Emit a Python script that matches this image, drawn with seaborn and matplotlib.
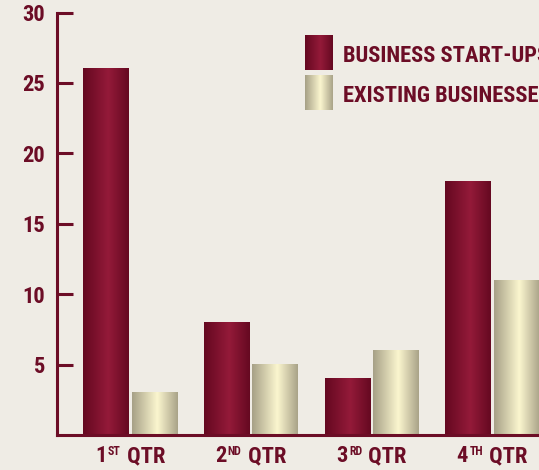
import numpy as np
import pandas as pd
import matplotlib
matplotlib.use("Agg")
import matplotlib.pyplot as plt
import seaborn as sns
from matplotlib.colors import LinearSegmentedColormap
from matplotlib import font_manager
from matplotlib.offsetbox import TextArea, HPacker, AnnotationBbox

# ---- data ----
quarters = ["1ST", "2ND", "3RD", "4TH"]
tick_nums = ["1", "2", "3", "4"]
tick_sups = ["ST", "ND", "RD", "TH"]
tick_word = "QTR"
series_names = ["BUSINESS START-UPS", "EXISTING BUSINESSES"]
startups = [26, 8, 4, 18]
existing = [3, 5, 6, 11]
y_ticks = [5, 10, 15, 20, 25, 30]

df = pd.DataFrame({
    "quarter": quarters * 2,
    "series": [series_names[0]] * 4 + [series_names[1]] * 4,
    "value": startups + existing,
})

# ---- style ----
bg = "#efece5"
ink = "#6c0d26"
maroon_cmap = LinearSegmentedColormap.from_list(
    "maroon", [(0, "#640820"), (0.55, "#941a39"), (1, "#650921")])
cream_cmap = LinearSegmentedColormap.from_list(
    "cream", [(0, "#a6a086"), (0.55, "#fbf6cf"), (1, "#a9a388")])
cmaps = [maroon_cmap, cream_cmap]

sns.set_theme(style="white")

def pick(fams):
    for f in fams:
        try:
            font_manager.findfont(f, fallback_to_default=False)
            return f
        except Exception:
            pass
    return "DejaVu Sans"

fam = pick(["Roboto Condensed", "PT Sans Narrow", "Archivo Narrow", "DejaVu Sans"])
plt.rcParams["font.family"] = [fam, "DejaVu Sans"]

FS = 16.2
SUP = 8.6
W, H = 539, 470
fig = plt.figure(figsize=(W / 100, H / 100), dpi=100, facecolor=bg)
ax = fig.add_axes([57 / W, 35 / H, 1 - 57 / W, (457.5 - 35) / H])
ax.set_facecolor(bg)

sns.barplot(data=df, x="quarter", y="value", hue="series",
            palette=["#8a1530", "#e6e0b8"], width=0.8, gap=0.065,
            saturation=1, linewidth=0, legend=False, ax=ax)

grad = np.linspace(0, 1, 256).reshape(1, -1)
for cont, cm in zip(ax.containers, cmaps):
    for p in cont:
        x0, y0 = p.get_x(), p.get_y()
        w, h = p.get_width(), p.get_height()
        ax.imshow(grad, cmap=cm, extent=[x0, x0 + w, y0, y0 + h],
                  aspect="auto", interpolation="bilinear",
                  zorder=p.get_zorder() + 0.1)

ax.set_xlim(-0.605, 3.388)
ax.set_ylim(0, 30)
ax.set_aspect("auto")

for s in ["top", "right"]:
    ax.spines[s].set_visible(False)
for s in ["left", "bottom"]:
    ax.spines[s].set_color(ink)
    ax.spines[s].set_linewidth(2.2)
    ax.spines[s].set_zorder(5)

ax.set_yticks(y_ticks)
ax.set_yticklabels([str(v) for v in y_ticks])
ax.tick_params(axis="y", left=True, direction="in", length=11.5, width=2.2,
               color=ink, pad=8.6, labelsize=FS, labelcolor=ink)
for lab in ax.get_yticklabels():
    lab.set_fontweight("bold")
ax.set_xticks(range(len(quarters)))
ax.set_xticklabels([""] * len(quarters))
ax.tick_params(axis="x", bottom=False, length=0)
ax.set_xlabel("")
ax.set_ylabel("")

# composite x tick labels with top-aligned superscripts
big = dict(color=ink, fontsize=FS, fontweight="bold")
small = dict(color=ink, fontsize=SUP, fontweight="bold")
for i, (n, s) in enumerate(zip(tick_nums, tick_sups)):
    box = HPacker(children=[TextArea(n, textprops=big),
                            TextArea(s, textprops=small),
                            TextArea(" " + tick_word, textprops=big)],
                  align="top", pad=0, sep=1)
    ab = AnnotationBbox(box, (i, 0), xycoords=ax.get_xaxis_transform(),
                        xybox=(0, -7.5), boxcoords="offset points",
                        box_alignment=(0.5, 1), frameon=False, pad=0,
                        annotation_clip=False)
    ax.add_artist(ab)

# ---- legend ----
sw = [(35, 70), (75, 110)]
bases = [62, 102]
for (t, b), cm, name, base in zip(sw, cmaps, series_names, bases):
    lax = fig.add_axes([305 / W, 1 - b / H, 28 / W, (b - t) / H])
    lax.imshow(grad, cmap=cm, aspect="auto", interpolation="bilinear")
    lax.axis("off")
    fig.text(343 / W, 1 - base / H, name, color=ink, fontsize=FS,
             fontweight="bold", va="baseline", ha="left")

fig.savefig("out.png", dpi=100, facecolor=bg)
